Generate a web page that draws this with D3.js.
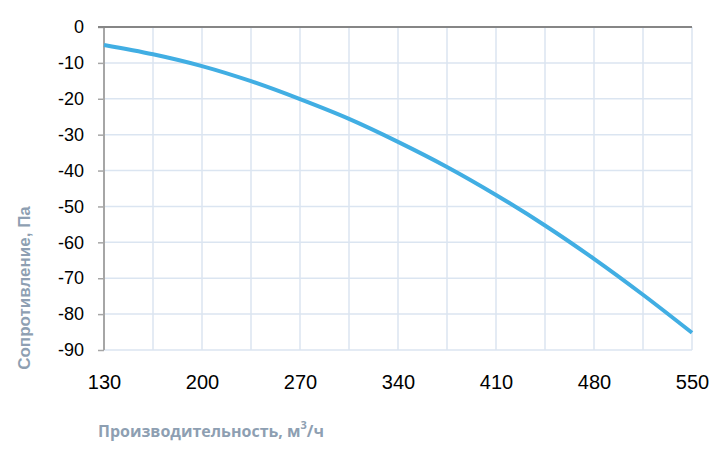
<!DOCTYPE html>
<html><head><meta charset="utf-8">
<script src="https://cdn.jsdelivr.net/npm/d3@7"></script>
<style>body{margin:0;background:#fff}svg{display:block}</style>
</head><body>
<svg id="c" width="726" height="456"></svg>
<script>
const flow = [130,165,200,235,270,305,340,375,410,445,480,515,550];
const pressure = [-5,-7.6,-10.9,-15.1,-20.1,-25.6,-32,-39,-46.8,-55.3,-64.6,-74.6,-85.2];
const xTicks = [130,200,270,340,410,480,550];
const xGrid = [130,165,200,235,270,305,340,375,410,445,480,515,550];
const yTicks = [0,-10,-20,-30,-40,-50,-60,-70,-80,-90];
const xTitle = "Производительность, м";
const yTitle = "Сопротивление, Па";

const svg = d3.select("#c");
const L=104, R=692, T=27, B=350;
const x = d3.scaleLinear().domain([130,550]).range([L,R]);
const y = d3.scaleLinear().domain([0,-90]).range([T,B]);
const fmt = d => String(d);

const grid = svg.append("g");
grid.selectAll("line.v").data(xGrid.slice(1)).join("line")
  .attr("x1",d=>x(d)).attr("x2",d=>x(d)).attr("y1",T).attr("y2",B)
  .attr("stroke","#dbe5f1").attr("stroke-width",1.5);
grid.selectAll("line.h").data(yTicks.slice(1)).join("line")
  .attr("x1",L).attr("x2",R).attr("y1",d=>y(d)).attr("y2",d=>y(d))
  .attr("stroke","#dbe5f1").attr("stroke-width",1.5);

const yAxis = d3.axisLeft(y).tickValues(yTicks).tickSize(6).tickPadding(14).tickFormat(fmt);
const ya = svg.append("g").attr("transform",`translate(${L},0)`).call(yAxis);
ya.select(".domain").attr("stroke","#a6a6a6").attr("stroke-width",2).attr("d",`M0,${T}V${B}`);
ya.selectAll(".tick line").attr("stroke","#a6a6a6").attr("stroke-width",1.5);
ya.selectAll(".tick text").attr("font-family","Liberation Sans, Arial, sans-serif").attr("font-size",18).attr("fill","#000");

svg.append("line").attr("x1",L-6).attr("x2",R).attr("y1",T).attr("y2",T)
  .attr("stroke","#868686").attr("stroke-width",2);

const xAxis = d3.axisBottom(x).tickValues(xTicks).tickSize(0).tickPadding(25).tickFormat(fmt);
const xa = svg.append("g").attr("transform",`translate(0,${B})`).call(xAxis);
xa.select(".domain").remove();
xa.selectAll(".tick text").attr("font-family","Liberation Sans, Arial, sans-serif").attr("font-size",20).attr("fill","#000");

const line = d3.line().x((d,i)=>x(flow[i])).y(d=>y(d)).curve(d3.curveMonotoneX);
svg.append("path").datum(pressure).attr("d",line)
  .attr("fill","none").attr("stroke","#41aee3").attr("stroke-width",4);

const xt = svg.append("text").attr("x",98).attr("y",437)
  .attr("font-family","Open Sans, Liberation Sans, sans-serif").attr("font-weight","bold")
  .attr("font-size",16).attr("fill","#8e9fb2");
xt.append("tspan").text(xTitle);
xt.append("tspan").attr("dy",-8).attr("font-size",11).text("3");
xt.append("tspan").attr("dy",8).text("/ч");

svg.append("text").attr("transform","translate(30,288) rotate(-90)").attr("text-anchor","middle")
  .attr("font-family","Liberation Sans, Arial, sans-serif").attr("font-weight","bold")
  .attr("font-size",17).attr("fill","#8e9fb2").text(yTitle);
</script>
</body></html>
